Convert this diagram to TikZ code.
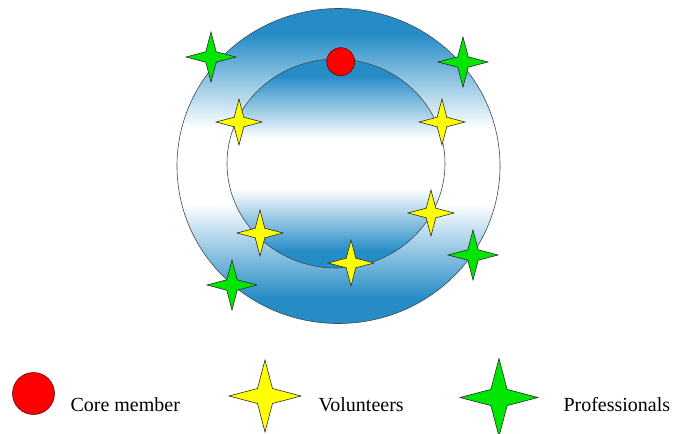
\documentclass[tikz,border=0pt]{standalone}
\usepackage{fontspec}
\setmainfont{Liberation Serif}
\usetikzlibrary{shapes.geometric}
\definecolor{ringblue}{HTML}{258CC6}
\definecolor{ringedge}{HTML}{3C4A57}
\definecolor{corered}{HTML}{FF0000}
\definecolor{volyellow}{HTML}{FFFF00}
\definecolor{profgreen}{HTML}{00E600}
\definecolor{staredge}{HTML}{2B2B2B}
\pgfdeclareverticalshading{ringshade}{100bp}{color(0bp)=(ringblue); color(25bp)=(ringblue); color(29bp)=(ringblue); color(44bp)=(white); color(56bp)=(white); color(71bp)=(ringblue); color(75bp)=(ringblue); color(100bp)=(ringblue)}
\tikzset{
  ring/.style={ellipse, draw=ringedge, line width=0.6pt, shading=ringshade, inner sep=0pt},
  corenode/.style={circle, draw=black!60!red, fill=corered, line width=0.6pt, inner sep=0pt},
  fourstar/.style={star, star points=4, star point ratio=3.4, draw=staredge, line width=0.6pt, inner sep=0pt},
  volstar/.style={fourstar, fill=volyellow, minimum size=46pt},
  profstar/.style={fourstar, fill=profgreen, minimum size=50pt},
  keytext/.style={anchor=base west, font=\rmfamily\fontsize{20}{24}\selectfont}
}

\begin{document}
\begin{tikzpicture}[x=1pt,y=-1pt]
  \useasboundingbox (0,0) rectangle (673,434);

  % rings
  \node[ring, minimum width=323pt, minimum height=315pt] (outer) at (338.5,166) {};
  \node[ring, minimum width=218pt, minimum height=209pt] (inner) at (336,163.5) {};

  % core member
  \node[corenode, minimum size=28pt] (core) at (340.7,61.7) {};

  % volunteers
  \node[volstar] (v1) at (239,122) {};
  \node[volstar] (v2) at (442,122) {};
  \node[volstar] (v3) at (431,213) {};
  \node[volstar] (v4) at (260,233) {};
  \node[volstar] (v5) at (351,263) {};

  % professionals
  \node[profstar] (p1) at (211,57) {};
  \node[profstar] (p2) at (463,62) {};
  \node[profstar] (p3) at (473,255) {};
  \node[profstar] (p4) at (232,285) {};

  % legend
  \node[corenode, minimum size=42pt] (corekey) at (33.5,393.5) {};
  \node[keytext] (coretext) at (67,411.7) {Core member};
  \node[fourstar, fill=volyellow, minimum size=72pt] (volkey) at (265,396) {};
  \node[keytext] (voltext) at (315,411.7) {Volunteers};
  \node[fourstar, fill=profgreen, minimum size=78pt] (profkey) at (499,397.5) {};
  \node[keytext] (proftext) at (560,411.7) {Professionals};
\end{tikzpicture}
\end{document}
